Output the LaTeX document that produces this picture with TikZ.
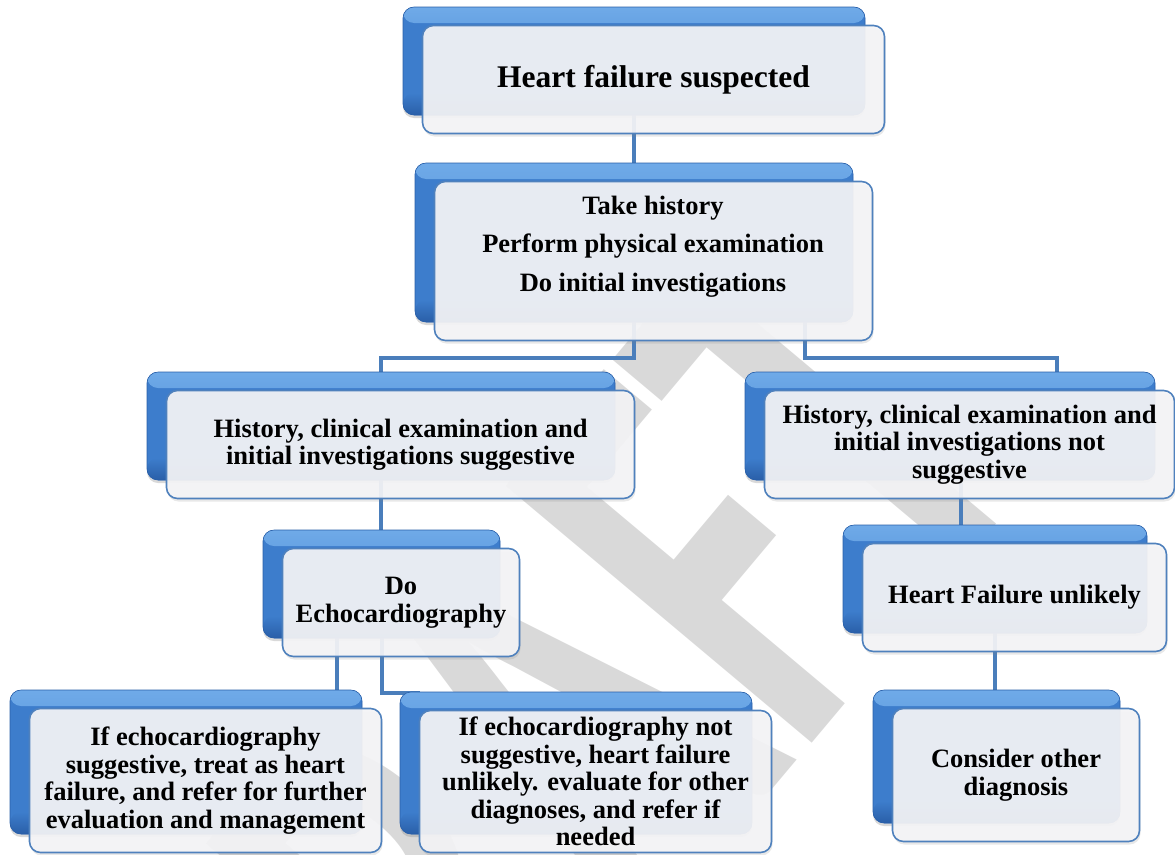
\documentclass[tikz,border=0pt]{standalone}
\usepackage{fontspec}
\setmainfont{Liberation Serif}
\newfontfamily\wmfont{Carlito}
\usetikzlibrary{shadows}

\definecolor{linkblue}{HTML}{4A7EBB}
\definecolor{cardedge}{HTML}{4F81BD}
\definecolor{slabtop}{HTML}{6FAAE8}
\definecolor{slabmid}{HTML}{3D7DCC}
\definecolor{slabbot}{HTML}{2A5FA8}
\definecolor{cardfill}{HTML}{F4F4F6}
\definecolor{wmgray}{HTML}{D9D9D9}

\pgfdeclarelayer{wm}
\pgfdeclarelayer{links}
\pgfsetlayers{wm,links,main}

\tikzset{
  slab/.style={rectangle, rounded corners=11pt, draw=slabbot, line width=0.6pt,
    fill=slabmid, inner sep=0pt,
    drop shadow={opacity=0.3, shadow xshift=0pt, shadow yshift=-3pt},
    path picture={
      \fill[top color=slabtop, bottom color=slabmid]
        (path picture bounding box.north west) rectangle
        ([yshift=-16pt]path picture bounding box.north east);
      \fill[top color=slabmid, bottom color=slabbot]
        ([yshift=22pt]path picture bounding box.south west) rectangle
        (path picture bounding box.south east);
    }},
  card/.style={rectangle, rounded corners=11pt, draw=cardedge, line width=1.6pt,
    fill=cardfill, fill opacity=0.93, text opacity=1, inner sep=0pt, align=center,
    font=\bfseries\fontsize{26.5}{27.5}\selectfont,
    drop shadow={opacity=0.18, shadow xshift=1pt, shadow yshift=-3pt}},
  cardtext/.style={align=center, inner sep=0pt, font=\bfseries\fontsize{26.5}{29}\selectfont},
  link/.style={draw=linkblue, line width=4pt},
  wmtext/.style={rotate=50, text=wmgray, inner sep=0pt, font=\wmfont\bfseries\fontsize{400}{400}\selectfont},
}

% #1 name, #2/#3 centre of the blue slab, #4 width, #5 height, #6 text
\newcommand\cardpair[6]{%
  \node[slab, minimum width=#4pt, minimum height=#5pt] (#1b) at (#2,#3) {};
  \node[card, minimum width=#4pt, minimum height=#5pt] (#1) at (#2+19.5,#3+18.5) {#6};
}

\begin{document}
\begin{tikzpicture}[x=1pt,y=-1pt]
\useasboundingbox (0,0) rectangle (1175,854);

% watermark, split between A and F
\begin{pgfonlayer}{wm}
  \coordinate (wmF) at (798,760);
  \node[wmtext, anchor=base east] (wmL) at (wmF) {\scalebox{1}[1.54]{DRA}};
  \node[wmtext, anchor=base west] (wmR) at (wmF) {\scalebox{1}[1.54]{FT}};
\end{pgfonlayer}

% boxes
\cardpair{n1}{634}{61}{462}{108}{\fontsize{31.5}{33}\selectfont Heart failure suspected}
\node[slab, minimum width=438pt, minimum height=159pt] (n2b) at (634,242.5) {};
\node[card, minimum width=438pt, minimum height=159pt] (n2) at (653.5,261) {};
\node[cardtext] (t2) at (653,246.5) {Take history\\[9.5pt] Perform physical examination\\[9.5pt] Do initial investigations};
\cardpair{n3}{381}{426}{468}{108}{\fontsize{26.5}{29}\selectfont History, clinical examination and\\ initial investigations suggestive}
\cardpair{n4}{950}{426}{410}{108}{History, clinical examination and\\ initial investigations not\\ suggestive}
\cardpair{n5}{381.5}{584}{237}{108}{Do\\ Echocardiography}
\cardpair{n6}{186}{762}{352}{144}{If echocardiography\\ suggestive, treat as heart\\ failure, and refer for further\\ evaluation and management}
\cardpair{n7}{576}{763}{352}{142}{If echocardiography not\\ suggestive, heart failure\\ unlikely. evaluate for other\\ diagnoses, and refer if\\ needed}
\cardpair{n8}{995}{579}{304}{108}{Heart Failure unlikely}
\cardpair{n9}{996.5}{756.5}{247}{133}{Consider other\\ diagnosis}

% connectors
\begin{pgfonlayer}{links}
  \draw[link] (n1b.south) -- (n2b.north);
  \draw[link] (n2b.south) -- ++(0,36) -| (n3b.north);
  \draw[link] ([xshift=171pt]n2b.south) -- ++(0,36) -| ([xshift=107pt]n4b.north);
  \draw[link] (n3b.south) -- (n3b.south |- n5b.north);
  \draw[link] ([xshift=-44.5pt]n5b.south) -- ([xshift=-44.5pt]n5b.south |- n6b.north);
  \draw[link] (n5b.south) |- ([xshift=20pt,yshift=-1pt]n7b.north west);
  \draw[link] ([xshift=11pt]n4b.south) -- ([xshift=11pt]n4b.south |- n8b.north);
  \draw[link] (n8b.south) -- (n8b.south |- n9b.north);
\end{pgfonlayer}
\end{tikzpicture}
\end{document}
